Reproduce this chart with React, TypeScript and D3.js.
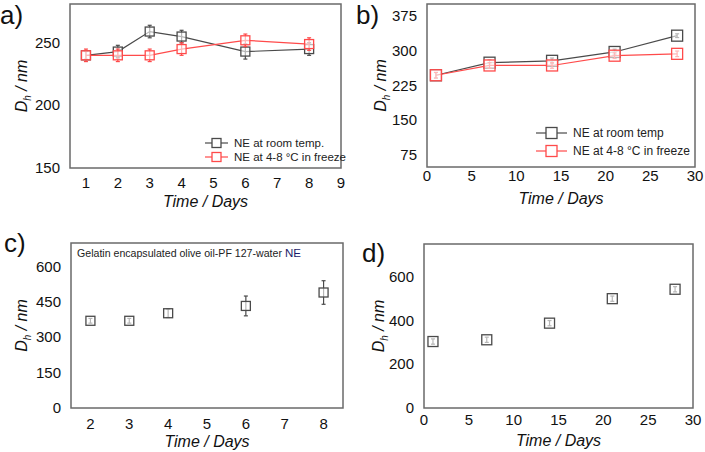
import * as d3 from "d3";

// panel a) – first 8 days
const daysA = [1, 2, 3, 4, 6, 8];
const roomA = [240, 243, 259, 255, 243, 245];
const roomErrA = [3, 5, 5, 5, 6, 5];
const fridgeA = [240, 240, 240, 245, 252, 249];
const fridgeErrA = [5, 5, 5, 5, 5, 5];
const ticksXA = [1, 2, 3, 4, 5, 6, 7, 8, 9];
const ticksYA = [150, 200, 250];

// panel b) – 28 days
const daysB = [1, 7, 14, 21, 28];
const roomB = [247, 274, 278, 297, 332];
const roomErrB = [6, 6, 6, 6, 4];
const fridgeB = [247, 268, 268, 289, 293];
const fridgeErrB = [6, 6, 6, 6, 6];
const ticksXB = [0, 5, 10, 15, 20, 25, 30];
const ticksYB = [75, 150, 225, 300, 375];

// panel c) – gelatin encapsulated
const daysC = [2, 3, 4, 6, 8];
const valC = [370, 370, 402, 433, 490];
const errC = [10, 10, 18, 42, 50];
const ticksXC = [2, 3, 4, 5, 6, 7, 8];
const ticksYC = [0, 150, 300, 450, 600];

// panel d)
const daysD = [1, 7, 14, 21, 28];
const valD = [304, 312, 388, 500, 543];
const errD = [12, 12, 12, 12, 12];
const ticksXD = [0, 5, 10, 15, 20, 25, 30];
const ticksYD = [0, 200, 400, 600];

const FONT = "Liberation Sans, Arial, sans-serif";
const GRAY = "#4a4a4a";
const RED = "#ff4a4a";

type Series = { x: number[]; y: number[]; err: number[]; color: string; line: boolean; label?: string };

type PanelProps = {
  tag: string;
  tagX: number;
  tagY: number;
  box: [number, number, number, number]; // left, top, right, bottom
  xDomain: [number, number];
  yDomain: [number, number];
  xTicks: number[];
  yTicks: number[];
  series: Series[];
  marker: number;
  yTitleX: number;
  xTitleY: number;
  xTickY: number;
  legend?: { x: number; y: number; dy: number; lineLen: number; size: number };
  note?: boolean;
};

function Panel(p: PanelProps) {
  const [l, t, r, b] = p.box;
  const x = d3.scaleLinear().domain(p.xDomain).range([l, r]);
  const y = d3.scaleLinear().domain(p.yDomain).range([b, t]);
  const cx = (l + r) / 2;
  const cy = (t + b) / 2;
  const m = p.marker;
  return (
    <g>
      <text x={p.tagX} y={p.tagY} fontSize={26} fontFamily={FONT} fill="#111">{p.tag}</text>
      <rect x={l} y={t} width={r - l} height={b - t} fill="white" stroke="#6a6a6a" strokeWidth={1.5} />
      {p.xTicks.map((v) => (
        <text key={"x" + v} x={x(v)} y={p.xTickY} textAnchor="middle" fontSize={15} fontFamily={FONT} fill="#111">{v}</text>
      ))}
      {p.yTicks.map((v) => (
        <text key={"y" + v} x={l - 10} y={y(v) + 5} textAnchor="end" fontSize={15} fontFamily={FONT} fill="#111">{v}</text>
      ))}
      <text x={cx} y={p.xTitleY} textAnchor="middle" fontSize={16} fontStyle="italic" fontFamily={FONT} fill="#111">Time / Days</text>
      <text transform={`translate(${p.yTitleX},${cy}) rotate(-90)`} textAnchor="middle" fontSize={16} fontStyle="italic" fontFamily={FONT} fill="#111">
        D<tspan fontSize={10} dy={4}>h</tspan><tspan dy={-4}> / nm</tspan>
      </text>
      {p.series.map((s, si) => {
        const pts = s.x.map((d, i) => [x(d), y(s.y[i])] as [number, number]);
        const path = d3.line()(pts) || "";
        return (
          <g key={si}>
            {s.line && <path d={path} fill="none" stroke={s.color} strokeWidth={1.2} />}
            {pts.map(([px, py], i) => (
              <g key={i}>
                <line x1={px} x2={px} y1={y(s.y[i] - s.err[i])} y2={y(s.y[i] + s.err[i])} stroke={s.color} strokeWidth={1.2} />
                <line x1={px - 2} x2={px + 2} y1={y(s.y[i] - s.err[i])} y2={y(s.y[i] - s.err[i])} stroke={s.color} strokeWidth={1.2} />
                <line x1={px - 2} x2={px + 2} y1={y(s.y[i] + s.err[i])} y2={y(s.y[i] + s.err[i])} stroke={s.color} strokeWidth={1.2} />
                <rect x={px - m / 2} y={py - m / 2} width={m} height={m} fill="white" fillOpacity={0.6} stroke={s.color} strokeWidth={1.3} />
              </g>
            ))}
          </g>
        );
      })}
      {p.legend &&
        p.series.map((s, i) => {
          const lg = p.legend!;
          const ly = lg.y + i * lg.dy;
          const mx = lg.x + lg.lineLen / 2;
          return (
            <g key={"lg" + i}>
              <line x1={lg.x} x2={lg.x + lg.lineLen} y1={ly} y2={ly} stroke={s.color} strokeWidth={1.2} />
              <rect x={mx - m / 2} y={ly - m / 2} width={m} height={m} fill="white" stroke={s.color} strokeWidth={1.3} />
              <text x={lg.x + lg.lineLen + 6} y={ly + 4} fontSize={lg.size} fontFamily={FONT} fill="#222">
                {s.label}
              </text>
            </g>
          );
        })}
      {p.note && (
        <text x={l + 6} y={t + 14} fontSize={10.6} fontFamily={FONT} fill="#222">
          Gelatin encapsulated olive oil-PF 127-water <tspan fontSize={11.5} fill="#1a1a6a">NE</tspan>
        </text>
      )}
    </g>
  );
}

export default function App() {
  return (
    <svg width={705} height={452} style={{ display: "block", position: "absolute", left: 0, top: 0 }}>
      <rect width={705} height={452} fill="white" />
      <Panel
        tag="a)" tagX={0} tagY={24}
        box={[70, 4, 341, 168]} xDomain={[0.5, 9]} yDomain={[150, 281]}
        xTicks={ticksXA} yTicks={ticksYA}
        series={[
          { x: daysA, y: roomA, err: roomErrA, color: GRAY, line: true, label: "NE at room temp." },
          { x: daysA, y: fridgeA, err: fridgeErrA, color: RED, line: true, label: "NE at 4-8 °C in freeze" },
        ]}
        marker={9} yTitleX={27} xTitleY={207} xTickY={188}
        legend={{ x: 205, y: 143, dy: 14, lineLen: 23, size: 11.5 }}
      />
      <Panel
        tag="b)" tagX={356} tagY={24}
        box={[427, 4, 695, 167]} xDomain={[0, 30]} yDomain={[50, 400]}
        xTicks={ticksXB} yTicks={ticksYB}
        series={[
          { x: daysB, y: roomB, err: roomErrB, color: GRAY, line: true, label: "NE at room temp" },
          { x: daysB, y: fridgeB, err: fridgeErrB, color: RED, line: true, label: "NE at 4-8 °C in freeze" },
        ]}
        marker={11} yTitleX={386} xTitleY={204} xTickY={181}
        legend={{ x: 536, y: 133, dy: 18, lineLen: 31, size: 12 }}
      />
      <Panel
        tag="c)" tagX={4} tagY={252}
        box={[71, 243, 343, 408]} xDomain={[1.5, 8.5]} yDomain={[0, 700]}
        xTicks={ticksXC} yTicks={ticksYC}
        series={[{ x: daysC, y: valC, err: errC, color: GRAY, line: false }]}
        marker={9} yTitleX={27} xTitleY={447} xTickY={429}
        note
      />
      <Panel
        tag="d)" tagX={362} tagY={262}
        box={[424, 244, 693, 408]} xDomain={[0, 30]} yDomain={[0, 750]}
        xTicks={ticksXD} yTicks={ticksYD}
        series={[{ x: daysD, y: valD, err: errD, color: GRAY, line: false }]}
        marker={10} yTitleX={384} xTitleY={446} xTickY={425}
      />
    </svg>
  );
}
